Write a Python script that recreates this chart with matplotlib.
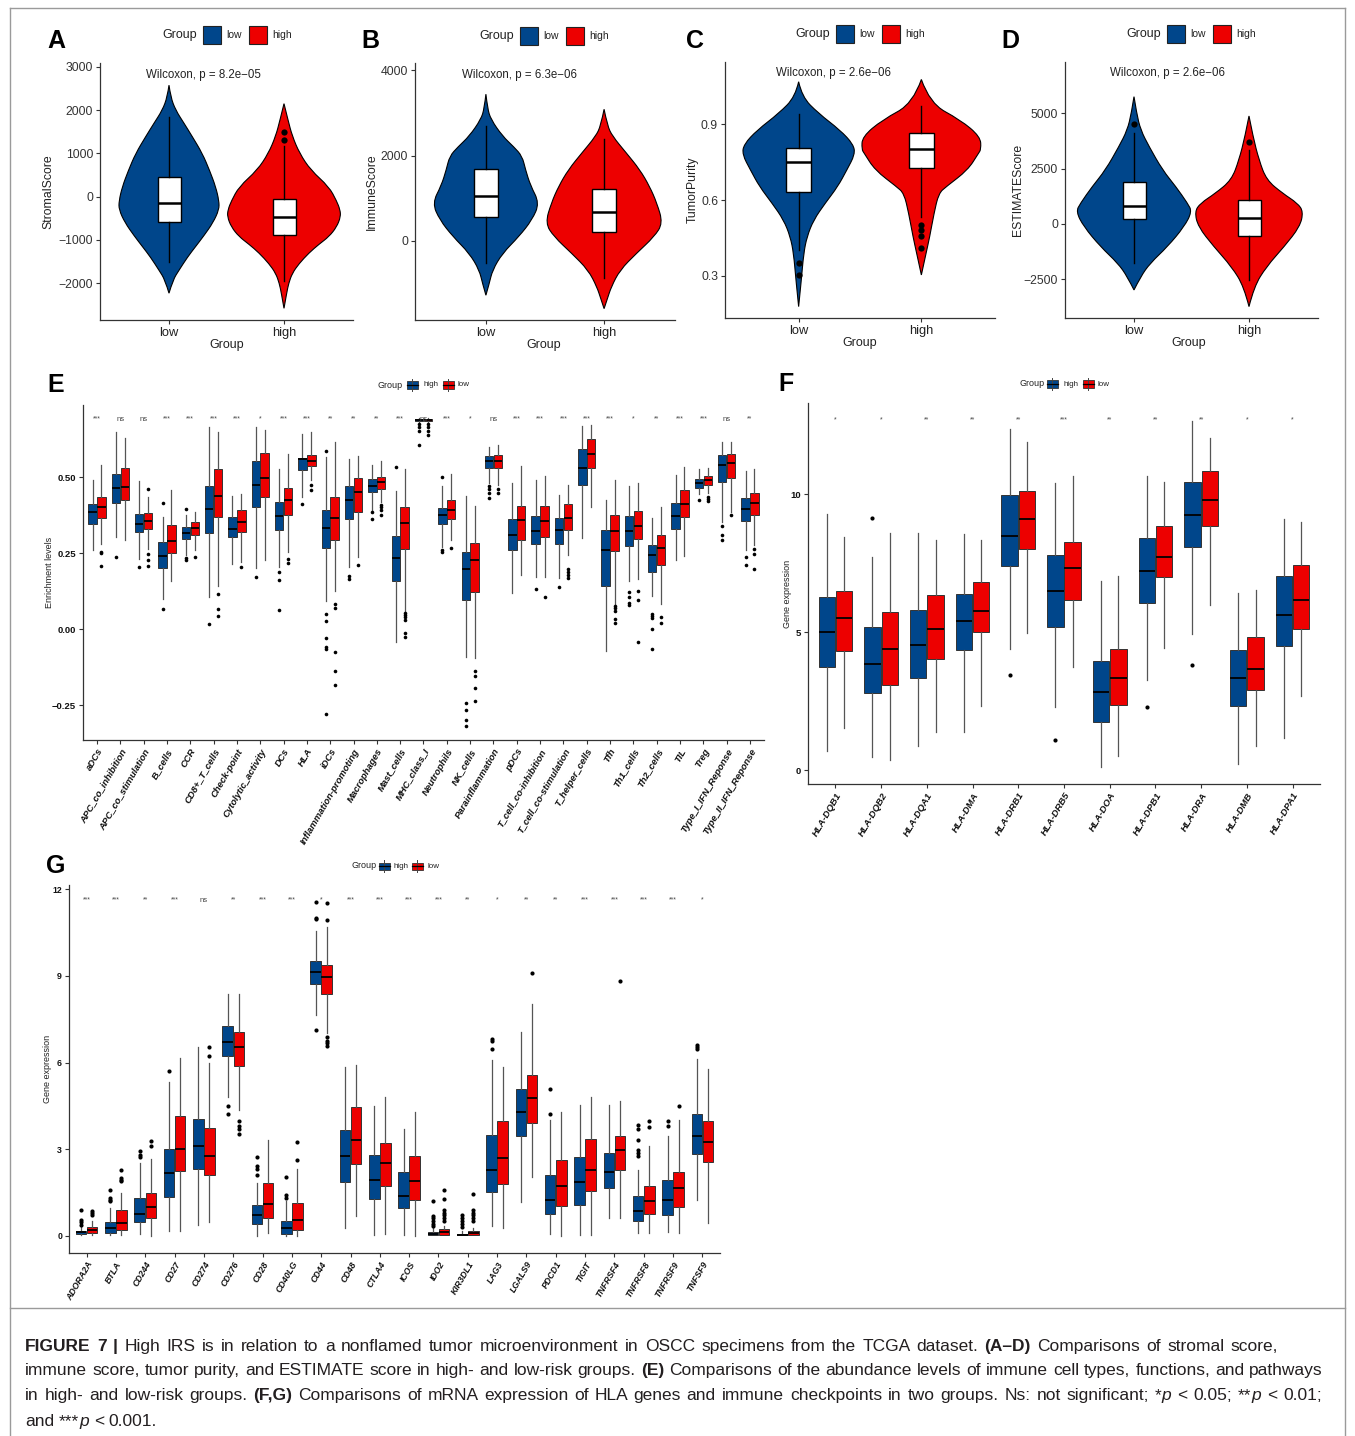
import numpy as np
import matplotlib
matplotlib.use("Agg")
import matplotlib.pyplot as plt
from matplotlib.patches import Rectangle, PathPatch
from matplotlib.lines import Line2D
from matplotlib.path import Path

plt.rcParams['font.family'] = ['Liberation Sans', 'DejaVu Sans']

W, H = 1355, 1436
BLUE = '#00468B'
RED = '#ED0000'

# ---------------- panels A-D : violin outlines (value, half width) + box stats
a_low_y = [2577, 2300, 2000, 1700, 1400, 1000, 600, 230, -100, -300, -600, -900, -1150, -1400, -1700, -1920, -2230]
a_low_w = [0, .015, .058, .13, .20, .29, .354, .406, .435, .435, .383, .304, .232, .16, .087, .035, 0]
a_high_y = [2150, 1770, 1400, 1000, 615, 230, -100, -300, -460, -700, -923, -1100, -1300, -1550, -1770, -2000, -2230, -2580]
a_high_w = [0, .035, .072, .136, .232, .391, .458, .487, .493, .458, .391, .304, .217, .13, .072, .041, .023, 0]
a_box = [[-1500, -577, -138, 446, 1846], [-1960, -885, -462, -62, 1180]]
a_out = [[], [1500, 1308]]

b_low_y = [3435, 3100, 2847, 2455, 2200, 1984, 1670, 1300, 886, 494, 102, -290, -682, -1000, -1270]
b_low_w = [0, .014, .042, .14, .237, .307, .335, .377, .453, .391, .279, .14, .056, .028, 0]
b_high_y = [3082, 2700, 2455, 2063, 1670, 1278, 886, 416, 102, -290, -682, -1074, -1350, -1584]
b_high_w = [0, .028, .07, .187, .302, .385, .447, .497, .425, .274, .134, .061, .028, 0]
b_box = [[-525, 557, 1043, 1686, 2690], [-878, 212, 675, 1216, 2392]]
b_out = [[], []]

c_low_y = [1.067, 1.008, 0.942, 0.876, 0.82, 0.78, 0.718, 0.653, 0.587, 0.521, 0.455, 0.389, 0.284, 0.179]
c_low_w = [0, .027, .162, .338, .446, .459, .392, .319, .216, .122, .068, .041, .022, 0]
c_high_y = [1.076, 0.982, 0.916, 0.85, 0.80, 0.784, 0.718, 0.653, 0.626, 0.547, 0.455, 0.389, 0.304]
c_high_w = [0, .068, .319, .481, .486, .465, .378, .203, .141, .103, .068, .038, 0]
c_box = [[0.403, 0.633, 0.749, 0.804, 0.938], [0.534, 0.725, 0.80, 0.863, 0.971]]
c_out = [[0.353, 0.304], [0.501, 0.482, 0.458, 0.412]]

d_low_y = [5753, 5000, 4247, 3500, 2440, 1687, 934, 557, -120, -1024, -1777, -2380, -2982]
d_low_w = [0, .023, .058, .131, .248, .364, .466, .504, .437, .292, .14, .058, 0]
d_high_y = [4880, 3946, 2892, 1988, 1386, 934, 557, -120, -1024, -1928, -2831, -3735]
d_high_w = [0, .035, .087, .152, .292, .423, .472, .443, .306, .152, .044, 0]
d_box = [[-1777, 241, 828, 1913, 4096], [-2530, -542, 286, 1084, 3343]]
d_out = [[4518], [3720]]

groups_ad = ['low', 'high']

# ---------------- panel E
e_cats = ['aDCs', 'APC_co_inhibition', 'APC_co_stimulation', 'B_cells', 'CCR', 'CD8+_T_cells',
          'Check-point', 'Cytolytic_activity', 'DCs', 'HLA', 'iDCs', 'Inflammation-promoting',
          'Macrophages', 'Mast_cells', 'MHC_class_I', 'Neutrophils', 'NK_cells', 'Parainflammation',
          'pDCs', 'T_cell_co-inhibition', 'T_cell_co-stimulation', 'T_helper_cells', 'Tfh',
          'Th1_cells', 'Th2_cells', 'TIL', 'Treg', 'Type_I_IFN_Reponse', 'Type_II_IFN_Reponse']
e_high = [[0.259, 0.347, 0.385, 0.410, 0.491], [0.303, 0.416, 0.465, 0.511, 0.649],
          [0.231, 0.319, 0.344, 0.378, 0.486], [0.098, 0.202, 0.241, 0.285, 0.369],
          [0.242, 0.295, 0.316, 0.336, 0.374], [0.104, 0.317, 0.394, 0.472, 0.663],
          [0.215, 0.303, 0.330, 0.367, 0.438], [0.200, 0.403, 0.475, 0.552, 0.666],
          [0.204, 0.325, 0.373, 0.417, 0.528], [0.436, 0.524, 0.558, 0.562, 0.643],
          [0.093, 0.267, 0.333, 0.392, 0.566], [0.204, 0.361, 0.423, 0.471, 0.560],
          [0.392, 0.450, 0.472, 0.493, 0.541], [-0.042, 0.159, 0.233, 0.305, 0.455],
          [0.680, 0.686, 0.689, 0.692, 0.695], [0.270, 0.345, 0.374, 0.399, 0.469],
          [-0.092, 0.095, 0.196, 0.252, 0.438], [0.480, 0.531, 0.552, 0.570, 0.600],
          [0.117, 0.259, 0.311, 0.362, 0.480], [0.170, 0.279, 0.323, 0.372, 0.491],
          [0.168, 0.281, 0.325, 0.364, 0.441], [0.298, 0.475, 0.529, 0.593, 0.668],
          [-0.071, 0.143, 0.259, 0.325, 0.425], [0.159, 0.273, 0.322, 0.373, 0.469],
          [0.110, 0.189, 0.245, 0.275, 0.364], [0.228, 0.330, 0.372, 0.414, 0.508],
          [0.445, 0.465, 0.479, 0.493, 0.527], [0.353, 0.483, 0.539, 0.574, 0.615],
          [0.259, 0.355, 0.394, 0.431, 0.519]]
e_high_out = [[], [0.237], [0.204], [0.415, 0.066], [0.396, 0.233, 0.228], [0.016], [], [0.170],
              [0.186, 0.162, 0.064], [0.410], [0.585, 0.049, 0.027, -0.029, -0.058, -0.067, -0.28],
              [0.173, 0.164], [0.386, 0.362], [0.532], [0.674, 0.663, 0.652, 0.604],
              [0.499, 0.261, 0.253], [-0.244, -0.266, -0.30, -0.32], [0.469, 0.461, 0.447, 0.430],
              [], [0.131], [0.139], [], [], [0.121, 0.104, 0.087, 0.079],
              [0.051, 0.043, 0.035, -0.001, -0.065], [], [0.423], [0.339, 0.309, 0.292], [0.237, 0.211]]
e_low = [[0.281, 0.364, 0.403, 0.435, 0.538], [0.294, 0.424, 0.467, 0.529, 0.629],
         [0.264, 0.329, 0.355, 0.381, 0.435], [0.159, 0.250, 0.289, 0.342, 0.456],
         [0.259, 0.310, 0.334, 0.353, 0.386], [0.143, 0.367, 0.439, 0.528, 0.648],
         [0.220, 0.319, 0.351, 0.393, 0.445], [0.226, 0.435, 0.498, 0.579, 0.654],
         [0.253, 0.375, 0.423, 0.465, 0.576], [0.491, 0.535, 0.554, 0.574, 0.647],
         [0.126, 0.292, 0.364, 0.433, 0.615], [0.237, 0.386, 0.452, 0.496, 0.569],
         [0.419, 0.462, 0.485, 0.499, 0.552], [0.060, 0.263, 0.350, 0.403, 0.527],
         [0.680, 0.686, 0.689, 0.691, 0.695], [0.292, 0.363, 0.392, 0.425, 0.511],
         [-0.095, 0.122, 0.226, 0.284, 0.405], [0.475, 0.529, 0.552, 0.573, 0.604],
         [0.179, 0.294, 0.358, 0.406, 0.535], [0.170, 0.303, 0.355, 0.405, 0.502],
         [0.245, 0.325, 0.366, 0.410, 0.475], [0.400, 0.529, 0.576, 0.626, 0.671],
         [0.082, 0.258, 0.323, 0.374, 0.491], [0.163, 0.295, 0.340, 0.389, 0.480],
         [0.082, 0.211, 0.267, 0.308, 0.403], [0.239, 0.367, 0.410, 0.457, 0.533],
         [0.447, 0.473, 0.491, 0.502, 0.531], [0.386, 0.498, 0.546, 0.576, 0.615],
         [0.278, 0.374, 0.414, 0.446, 0.527]]
e_low_out = [[0.253, 0.250, 0.209], [], [0.460, 0.248, 0.228, 0.206], [], [0.236],
             [0.115, 0.066, 0.044], [0.204], [], [0.231, 0.217], [0.475, 0.456],
             [0.082, 0.069, -0.075, -0.139, -0.184], [0.212], [0.408, 0.403, 0.392, 0.375],
             [0.054, 0.046, 0.038, 0.030, -0.012, -0.027], [0.674, 0.663, 0.652, 0.637], [0.267],
             [-0.139, -0.153, -0.195, -0.237], [0.460, 0.447], [], [0.104],
             [0.198, 0.189, 0.179, 0.168], [], [0.076, 0.069, 0.060, 0.032, 0.020],
             [0.126, 0.095, -0.042], [0.040, 0.021], [], [0.434, 0.428, 0.421], [0.374],
             [0.262, 0.246, 0.196]]
e_sig = ['***', 'ns', 'ns', '***', '***', '***', '***', '*', '***', '***', '**', '**', '**', '***',
         'ns', '***', '*', 'ns', '***', '***', '***', '***', '***', '*', '**', '***', '***', 'ns', '**']

# ---------------- panel F
f_genes = ['HLA-DQB1', 'HLA-DQB2', 'HLA-DQA1', 'HLA-DMA', 'HLA-DRB1', 'HLA-DRB5', 'HLA-DOA',
           'HLA-DPB1', 'HLA-DRA', 'HLA-DMB', 'HLA-DPA1']
f_high = [[0.68, 3.73, 5.02, 6.29, 9.29], [0.47, 2.81, 3.86, 5.18, 7.71], [0.89, 3.33, 4.52, 5.81, 8.59],
          [1.40, 4.36, 5.40, 6.40, 8.56], [4.40, 7.40, 8.47, 9.96, 12.37], [2.28, 5.18, 6.50, 7.80, 10.42],
          [0.13, 1.73, 2.83, 3.94, 6.84], [3.27, 6.05, 7.23, 8.41, 10.64], [4.94, 8.09, 9.26, 10.45, 12.66],
          [0.22, 2.31, 3.35, 4.34, 6.41], [1.16, 4.49, 5.62, 7.04, 9.09]]
f_high_out = [[], [9.15], [], [], [3.45], [1.10], [], [2.28], [3.82], [], []]
f_low = [[1.52, 4.32, 5.53, 6.49, 8.44], [0.37, 3.07, 4.40, 5.72, 8.59], [1.38, 4.01, 5.13, 6.36, 8.32],
         [2.33, 5.00, 5.76, 6.80, 8.35], [4.96, 8.02, 9.09, 10.13, 11.87], [3.72, 6.17, 7.31, 8.26, 10.66],
         [0.50, 2.37, 3.33, 4.40, 7.04], [4.44, 6.98, 7.74, 8.83, 10.45], [5.99, 8.84, 9.79, 10.85, 12.05],
         [0.86, 2.89, 3.67, 4.84, 6.51], [2.69, 5.13, 6.17, 7.44, 8.99]]
f_low_out = [[] for _ in f_genes]
f_sig = ['*', '*', '**', '**', '**', '***', '**', '**', '**', '*', '*']

# ---------------- panel G
g_genes = ['ADORA2A', 'BTLA', 'CD244', 'CD27', 'CD274', 'CD276', 'CD28', 'CD40LG', 'CD44', 'CD48',
           'CTLA4', 'ICOS', 'IDO2', 'KIR3DL1', 'LAG3', 'LGALS9', 'PDCD1', 'TIGIT', 'TNFRSF4',
           'TNFRSF8', 'TNFRSF9', 'TNFSF9']
g_high = [[0.02, 0.07, 0.13, 0.17, 0.32], [0.01, 0.09, 0.27, 0.47, 0.96], [0.07, 0.46, 0.75, 1.30, 2.52],
          [0.17, 1.34, 2.17, 3.01, 5.34], [0.38, 2.31, 3.12, 4.04, 6.55], [4.82, 6.24, 6.70, 7.28, 8.37],
          [0.00, 0.40, 0.73, 1.07, 1.82], [0.00, 0.06, 0.27, 0.52, 1.19], [7.66, 8.72, 9.12, 9.52, 10.56],
          [0.27, 1.86, 2.77, 3.65, 5.86], [0.03, 1.28, 1.92, 2.78, 4.51], [0.03, 0.96, 1.38, 2.19, 3.69],
          [0.01, 0.01, 0.07, 0.13, 0.27], [0.01, 0.01, 0.03, 0.06, 0.15], [0.35, 1.53, 2.26, 3.50, 6.07],
          [1.17, 3.47, 4.28, 5.08, 7.04], [0.07, 0.75, 1.25, 2.11, 4.02], [0.03, 1.06, 1.87, 2.71, 4.53],
          [0.61, 1.65, 2.19, 2.88, 4.53], [0.09, 0.50, 0.87, 1.36, 2.28], [0.12, 0.70, 1.23, 1.92, 3.46],
          [1.22, 2.83, 3.47, 4.21, 6.12]]
g_high_out = [[0.90, 0.55, 0.46, 0.38], [1.59, 1.30, 1.25, 1.19], [2.92, 2.80, 2.72], [5.70], [],
              [4.50, 4.21], [2.72, 2.42, 2.32, 2.11], [2.05, 1.42, 1.30], [11.57, 11.0, 10.96, 7.11],
              [], [], [], [1.19, 0.69, 0.60, 0.50, 0.40, 0.32], [0.73, 0.60, 0.50, 0.40, 0.30],
              [6.81, 6.76, 6.47], [], [5.08, 4.22], [], [], [3.84, 3.69, 3.32, 2.98, 2.86, 2.75],
              [3.98, 3.81], [6.61, 6.53, 6.46]]
g_low = [[0.02, 0.09, 0.18, 0.29, 0.50], [0.01, 0.21, 0.44, 0.90, 1.48], [0.00, 0.61, 0.98, 1.48, 2.65],
         [0.17, 2.23, 3.01, 4.13, 6.15], [0.46, 2.09, 2.77, 3.73, 5.98], [4.36, 5.88, 6.52, 7.04, 8.37],
         [0.09, 0.61, 1.10, 1.82, 3.32], [0.00, 0.21, 0.53, 1.13, 2.31], [7.02, 8.38, 8.96, 9.38, 10.71],
         [0.69, 2.49, 3.30, 4.45, 5.92], [0.06, 1.71, 2.52, 3.21, 4.80], [0.00, 1.25, 1.90, 2.77, 4.30],
         [0.03, 0.03, 0.13, 0.23, 0.32], [0.01, 0.01, 0.08, 0.15, 0.27], [0.27, 1.79, 2.69, 3.98, 5.84],
         [2.03, 3.90, 4.77, 5.55, 8.03], [0.00, 1.02, 1.71, 2.61, 4.28], [0.01, 1.56, 2.28, 3.35, 4.79],
         [0.61, 2.26, 2.98, 3.44, 4.68], [0.09, 0.75, 1.19, 1.71, 3.12], [0.09, 1.00, 1.64, 2.20, 4.02],
         [0.44, 2.54, 3.24, 3.96, 5.78]]
g_low_out = [[0.84, 0.78, 0.73], [2.28, 2.00, 1.94, 1.88], [3.27, 3.09], [], [6.55, 6.21],
             [3.99, 3.81, 3.69, 3.53], [], [3.24, 2.63], [11.54, 10.94, 6.87, 6.76, 6.67, 6.58],
             [], [], [], [1.59, 1.27, 0.90, 0.80, 0.70, 0.60, 0.50], [1.44, 0.90, 0.80, 0.70, 0.60, 0.50],
             [], [9.09], [], [], [8.83], [3.96, 3.76], [4.51], []]
g_sig = ['***', '***', '**', '***', 'ns', '**', '***', '***', '*', '***', '***', '***', '***', '**',
         '*', '**', '**', '***', '***', '***', '***', '*']

fig = plt.figure(figsize=(W / 100, H / 100), dpi=100)


def fx(x):
    return x / W


def fy(y):
    return 1 - y / H


def add_ax(x0, y0, x1, y1):
    return fig.add_axes([fx(x0), fy(y1), (x1 - x0) / W, (y1 - y0) / H])


def style_axis(ax, size, weight='normal', color='#333333'):
    for s in ['top', 'right']:
        ax.spines[s].set_visible(False)
    for s in ['left', 'bottom']:
        ax.spines[s].set_color('#333333')
        ax.spines[s].set_linewidth(0.9)
    ax.tick_params(length=3, width=0.8, color='#333333', pad=2, labelsize=size, labelcolor=color)
    for t in ax.get_yticklabels() + ax.get_xticklabels():
        t.set_fontweight(weight)


def quad_path(pts):
    # smooth outline: the read points act as quadratic Bezier control points
    verts = [pts[0]]
    codes = [Path.MOVETO]
    for i in range(1, len(pts) - 2):
        mid = ((pts[i][0] + pts[i + 1][0]) / 2, (pts[i][1] + pts[i + 1][1]) / 2)
        verts += [pts[i], mid]
        codes += [Path.CURVE3, Path.CURVE3]
    verts += [pts[-2], pts[-1]]
    codes += [Path.CURVE3, Path.CURVE3]
    return verts, codes


def violin_patch(ax, c, vy, vw, col):
    right = [(c + w, y) for y, w in zip(vy, vw)]
    left = [(c - w, y) for y, w in zip(vy[::-1], vw[::-1])]
    v1, c1 = quad_path(right)
    v2, c2 = quad_path(left)
    verts = v1 + v2[1:] + [v1[0]]
    codes = c1 + c2[1:] + [Path.CLOSEPOLY]
    ax.add_patch(PathPatch(Path(verts, codes), facecolor=col, edgecolor='black', lw=0.8, zorder=1))


def violin_panel(box, vdata, stats, outs, ylim, yticks, ylabels, ylab, ylab_x, xlab_xy, pval, p_xy,
                 letter, letter_x, gx, gy):
    ax = add_ax(*box)
    for i, ((vy, vw), col) in enumerate(zip(vdata, [BLUE, RED])):
        violin_patch(ax, i + 1, vy, vw, col)
    bs = [dict(whislo=s[0], q1=s[1], med=s[2], q3=s[3], whishi=s[4], fliers=o) for s, o in zip(stats, outs)]
    ax.bxp(bs, positions=[1, 2], widths=0.2, patch_artist=True, showcaps=False, manage_ticks=False,
           boxprops=dict(facecolor='white', edgecolor='black', lw=1),
           medianprops=dict(color='black', lw=1.8),
           whiskerprops=dict(color='black', lw=1),
           flierprops=dict(marker='o', mfc='black', mec='black', ms=4.5, mew=0), zorder=3)
    ax.set_xlim(0.4, 2.6)
    ax.set_ylim(*ylim)
    ax.set_yticks(yticks)
    ax.set_yticklabels(ylabels)
    ax.set_xticks([1, 2])
    ax.set_xticklabels(groups_ad)
    style_axis(ax, 8.8)
    for t in ax.get_xticklabels():
        t.set_fontsize(9.3)
        t.set_color('#222222')
    cy = (box[1] + box[3]) / 2
    fig.text(fx(ylab_x), fy(cy), ylab, rotation=90, ha='center', va='center', fontsize=8.8, color='#222222')
    fig.text(fx(xlab_xy[0]), fy(xlab_xy[1]), 'Group', ha='center', va='center', fontsize=9, color='#222222')
    fig.text(fx(p_xy[0]), fy(p_xy[1]), pval, ha='center', va='center', fontsize=8.3, color='#222222')
    fig.text(fx(letter_x), fy(48), letter, fontsize=18, fontweight='bold', ha='left', va='baseline')
    # legend
    fig.text(fx(gx), fy(gy), 'Group', fontsize=9, ha='left', va='center', color='#222222')
    for dx, col, lab in [(41, BLUE, 'low'), (87, RED, 'high')]:
        fig.add_artist(Rectangle((fx(gx + dx), fy(gy + 8.5)), 17.5 / W, 17 / H,
                                 facecolor=col, edgecolor='#222222', lw=0.8))
        fig.text(fx(gx + dx + 23), fy(gy), lab, fontsize=7.5, ha='left', va='center', color='#222222')
    return ax


violin_panel((100, 63, 353, 320), [(a_low_y, a_low_w), (a_high_y, a_high_w)], a_box, a_out,
             (-2850, 3090), [-2000, -1000, 0, 1000, 2000, 3000],
             ['\u22122000', '\u22121000', '0', '1000', '2000', '3000'], 'StromalScore', 48, (227, 345),
             'Wilcoxon, p = 8.2e\u221205', (203.5, 75), 'A', 47, 162, 35)
violin_panel((415, 63, 675, 320), [(b_low_y, b_low_w), (b_high_y, b_high_w)], b_box, b_out,
             (-1850, 4165), [0, 2000, 4000], ['0', '2000', '4000'], 'ImmuneScore', 372, (544, 345),
             'Wilcoxon, p = 6.3e\u221206', (519.5, 75), 'B', 361, 479, 36)
violin_panel((725, 62, 995, 318), [(c_low_y, c_low_w), (c_high_y, c_high_w)], c_box, c_out,
             (0.134, 1.145), [0.3, 0.6, 0.9], ['0.3', '0.6', '0.9'], 'TumorPurity', 693, (860, 343),
             'Wilcoxon, p = 2.6e\u221206', (834, 73), 'C', 686, 795, 34)
violin_panel((1065, 62, 1318, 318), [(d_low_y, d_low_w), (d_high_y, d_high_w)], d_box, d_out,
             (-4250, 7320), [-2500, 0, 2500, 5000], ['\u22122500', '0', '2500', '5000'], 'ESTIMATEScore',
             1018, (1189, 343), 'Wilcoxon, p = 2.6e\u221206', (1168, 73), 'D', 1001, 1126, 34)


def box_key(x, y, col):
    fig.add_artist(Line2D([fx(x), fx(x)], [fy(y - 6), fy(y + 6)], color='#444444', lw=0.7))
    fig.add_artist(Rectangle((fx(x - 5.5), fy(y + 3.5)), 11 / W, 7 / H, facecolor=col,
                             edgecolor='#333333', lw=0.6))
    fig.add_artist(Line2D([fx(x - 5.5), fx(x + 5.5)], [fy(y), fy(y)], color='black', lw=0.9))


def small_legend(gx, gy, kb, th, kr, tl):
    fig.text(fx(gx), fy(gy), 'Group', fontsize=6.5, ha='left', va='center', color='#222222')
    box_key(kb, gy, BLUE)
    fig.text(fx(th), fy(gy), 'high', fontsize=5.8, ha='left', va='center', color='#222222')
    box_key(kr, gy, RED)
    fig.text(fx(tl), fy(gy), 'low', fontsize=5.8, ha='left', va='center', color='#222222')


def box_panel(box, cats, high, high_out, low, low_out, sig, sig_y, ylim, yticks, ylabels, ylab, ylab_x,
              ms, tick_size):
    ax = add_ax(*box)
    pos = np.arange(1, len(cats) + 1)
    for stats, outs, off, col in [(high, high_out, -0.19, BLUE), (low, low_out, 0.19, RED)]:
        bs = [dict(whislo=s[0], q1=s[1], med=s[2], q3=s[3], whishi=s[4], fliers=o)
              for s, o in zip(stats, outs)]
        ax.bxp(bs, positions=pos + off, widths=0.36, patch_artist=True, showcaps=False, manage_ticks=False,
               boxprops=dict(facecolor=col, edgecolor='#333333', lw=0.7),
               medianprops=dict(color='black', lw=1.3),
               whiskerprops=dict(color='#555555', lw=0.9),
               flierprops=dict(marker='o', mfc='black', mec='black', ms=ms, mew=0))
    for p, s in zip(pos, sig):
        ax.text(p, sig_y, s, ha='center', va='center', fontsize=5.5 if s == 'ns' else 5, color='#444444')
    ax.set_xlim(0.4, len(cats) + 0.6)
    ax.set_ylim(*ylim)
    ax.set_yticks(yticks)
    ax.set_yticklabels(ylabels)
    ax.set_xticks(pos)
    ax.set_xticklabels(cats, rotation=60, ha='right', va='top', rotation_mode='anchor')
    style_axis(ax, tick_size, weight='bold', color='#111111')
    for t in ax.get_xticklabels():
        t.set_fontstyle('italic')
    cy = (box[1] + box[3]) / 2
    fig.text(fx(ylab_x), fy(cy), ylab, rotation=90, ha='center', va='center', fontsize=6.5, color='#222222')
    return ax


box_panel((83, 405, 764, 740), e_cats, e_high, e_high_out, e_low, e_low_out, e_sig, 0.69,
          (-0.365, 0.737), [-0.25, 0, 0.25, 0.5], ['\u22120.25', '0.00', '0.25', '0.50'],
          'Enrichment levels', 49, 2.6, 6.8)
fig.text(fx(47), fy(392), 'E', fontsize=18, fontweight='bold', ha='left', va='baseline')
small_legend(377, 385, 412, 423, 448, 458)

box_panel((808, 403, 1320, 784), f_genes, f_high, f_high_out, f_low, f_low_out, f_sig, 12.69,
          (-0.5, 13.3), [0, 5, 10], ['0', '5', '10'], 'Gene expression', 787, 3.0, 6.8)
fig.text(fx(778), fy(391), 'F', fontsize=18, fontweight='bold', ha='left', va='baseline')
small_legend(1019, 384, 1052, 1063, 1088, 1098)

box_panel((69, 885, 720, 1253), g_genes, g_high, g_high_out, g_low, g_low_out, g_sig, 11.63,
          (-0.6, 12.15), [0, 3, 6, 9, 12], ['0', '3', '6', '9', '12'], 'Gene expression', 48, 3.0, 6.3)
fig.text(fx(46), fy(873), 'G', fontsize=18, fontweight='bold', ha='left', va='baseline')
small_legend(351, 866, 384, 393, 417, 427)

# ---------------- frame
for xs, ys in [([10, 1345], [8, 8]), ([10, 10], [8, 1436]), ([1345, 1345], [8, 1436]), ([10, 1345], [1308, 1308])]:
    fig.add_artist(Line2D([fx(v) for v in xs], [fy(v) for v in ys], color='#9a9a9a', lw=1))

# ---------------- caption
cap_lines = [
    [('FIGURE 7 |', 'b'), (' High IRS is in relation to a nonflamed tumor microenvironment in OSCC specimens '
                            'from the TCGA dataset. ', 'n'), ('(A\u2013D)', 'b'),
     (' Comparisons of stromal score,', 'n')],
    [('immune score, tumor purity, and ESTIMATE score in high- and low-risk groups. ', 'n'), ('(E)', 'b'),
     (' Comparisons of the abundance levels of immune cell types, functions, and pathways', 'n')],
    [('in high- and low-risk groups. ', 'n'), ('(F,G)', 'b'),
     (' Comparisons of mRNA expression of HLA genes and immune checkpoints in two groups. '
      'Ns: not significant; *', 'n'), ('p', 'i'), (' < 0.05; **', 'n'), ('p', 'i'), (' < 0.01;', 'n')],
    [('and ***', 'n'), ('p', 'i'), (' < 0.001.', 'n')],
]
cap_base = [1351, 1375, 1400, 1426]
cap_right = [1278, 1323, 1322, None]

renderer = fig.canvas.get_renderer()


def run_kw(style, size):
    kw = dict(fontsize=size, color='#231F20', va='baseline', ha='left')
    if style == 'b':
        kw['fontweight'] = 'bold'
    if style == 'i':
        kw['fontstyle'] = 'italic'
    return kw


def run_width(txt, style, size):
    if not txt:
        return 0.0
    kw = run_kw(style, size)
    a = fig.text(0, 0, txt + '|', **kw)
    b = fig.text(0, 0, '|', **kw)
    w = a.get_window_extent(renderer).width - b.get_window_extent(renderer).width
    a.remove()
    b.remove()
    return w


# font size chosen so the second line nearly fills its measured width
trial = sum(run_width(t, s, 12) for t, s in cap_lines[1])
cap_size = 12 * (1292 / trial)

for runs, yb, right in zip(cap_lines, cap_base, cap_right):
    natural = sum(run_width(t, s, cap_size) for t, s in runs)
    nsp = sum(t.count(' ') for t, _ in runs)
    extra = max(0.0, (right - 25 - natural) / nsp) if right else 0.0
    x = 25
    k = 0
    for txt, st in runs:
        parts = txt.split(' ')
        prefix = ''
        for j, part in enumerate(parts):
            if j > 0:
                prefix += ' '
                k += 1
            if part:
                off = run_width(prefix, st, cap_size)
                fig.text(fx(x + off + extra * k), fy(yb), part, **run_kw(st, cap_size))
            prefix += part
        x += run_width(txt, st, cap_size)

fig.savefig('out.png', dpi=100)
